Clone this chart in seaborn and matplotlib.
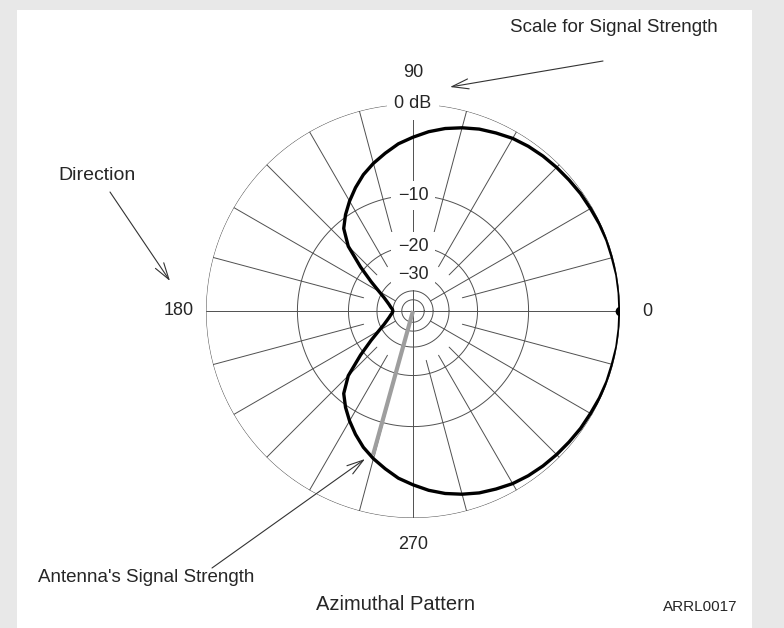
import numpy as np
import pandas as pd
import matplotlib
matplotlib.use("Agg")
import matplotlib.pyplot as plt
from matplotlib.patches import Rectangle
import seaborn as sns

# azimuth (deg) and relative gain (dB) for 0..180 deg;
# the pattern is mirror-symmetric about the 0-180 axis
half_angles = list(range(0, 181, 5))
half_gain_db = [0.0, 0.0, 0.0, -0.05, -0.05, -0.1, -0.17, -0.2, -0.27, -0.33,
                -0.4, -0.5, -0.65, -0.9, -1.15, -1.5, -1.9, -2.4, -3.0, -3.6,
                -4.4, -5.2, -6.1, -7.2, -8.4, -9.7, -11.2, -14.0, -19.0, -24.0,
                -28.5, -32.0, -34.5, -36.5, -38.0, -39.5, -40.0]

ring_levels_db = [0, -10, -20, -30, -40, -50]
ring_labels = {-10: "\u221210", -20: "\u221220", -30: "\u221230"}
direction_labels = {0: "0", 90: "90", 180: "180", 270: "270"}
spoke_angles = list(range(0, 360, 15))

strength_angle = 254.5
strength_db = -5.6

W, H = 784, 628


def arrl_r(db):
    # ARRL log-periodic scale: radius shrinks by 0.89 every 2 dB
    return 0.89 ** (-np.asarray(db, dtype=float) / 2)


def px(x, y):
    # pixel position (from top-left) -> figure fraction
    return (x / W, 1 - y / H)


angles = half_angles + [360 - a for a in half_angles[-2::-1]]
gain_db = half_gain_db + half_gain_db[-2::-1]
pattern = pd.DataFrame({"theta": np.deg2rad(angles), "r": arrl_r(gain_db)})

sns.set_theme(style="white")
plt.rcParams["font.family"] = ["Liberation Sans", "DejaVu Sans"]

fig = plt.figure(figsize=(W / 100, H / 100), dpi=100, facecolor="#e8e8e8")
fig.patches.append(Rectangle(px(17, 628), (752 - 17) / W, 1 - 10 / H,
                             transform=fig.transFigure, facecolor="white",
                             edgecolor="none", zorder=-5))

cx, cy, R = 413, 311, 207
ax = fig.add_axes([(cx - R) / W, (H - cy - R) / H, 2 * R / W, 2 * R / H],
                  projection="polar")
ax.set_facecolor("none")

grid_kw = dict(color="#505050", lw=0.7, zorder=1)

# rings
full = np.linspace(0, 2 * np.pi, 721)
for lvl in ring_levels_db:
    ax.plot(full, np.full_like(full, arrl_r(lvl)), **grid_kw)

# spokes, inner end depends on the angle
for a in spoke_angles:
    if a % 90 == 0:
        r_in = 0.0
    elif a % 30 == 0 and a % 60 != 0:
        r_in = arrl_r(-40)
    else:
        r_in = arrl_r(-24)
    th = np.deg2rad(a)
    ax.plot([th, th], [r_in, 1.0], **grid_kw)

# antenna pattern
sns.lineplot(data=pattern, x="theta", y="r", sort=False, estimator=None,
             color="black", lw=2.4, ax=ax, zorder=4)
ax.plot([0], [1.0], "o", color="black", ms=6, zorder=5)

# signal strength pointer
th_s = np.deg2rad(strength_angle)
ax.plot([th_s, th_s], [0, arrl_r(strength_db)], color="#9e9e9e", lw=3,
        solid_capstyle="butt", zorder=3)

ax.set_ylim(0, 1)
ax.set_theta_zero_location("E")
ax.grid(False)
ax.set_xticks([])
ax.set_yticks([])
ax.set_xlabel("")
ax.set_ylabel("")
ax.spines["polar"].set_visible(False)

box = dict(boxstyle="square,pad=0.35", facecolor="white", edgecolor="none")
for lvl, txt in ring_labels.items():
    ax.text(np.pi / 2, arrl_r(lvl), txt, ha="center", va="center",
            fontsize=13, bbox=box, zorder=6)
ax.text(np.pi / 2, 1.0, "0 dB", ha="center", va="center", fontsize=13,
        bbox=dict(boxstyle="square,pad=0.4", facecolor="white", edgecolor="none"),
        zorder=6)

for a, txt in direction_labels.items():
    rr = 1.15 if a == 90 else 1.13
    ax.text(np.deg2rad(a), rr, txt, ha="center", va="center", fontsize=13)

arrow_kw = dict(arrowstyle="->,head_length=1.0,head_width=0.3",
                color="#333333", lw=0.8, shrinkA=0, shrinkB=0)

fig.text(*px(614, 28), "Scale for Signal Strength", ha="center", va="center",
         fontsize=13.5)
ax.annotate("", xy=px(450, 87), xycoords="figure fraction",
            xytext=px(603, 61), textcoords="figure fraction",
            arrowprops=arrow_kw, annotation_clip=False)

fig.text(*px(97, 175), "Direction", ha="center", va="center", fontsize=14)
ax.annotate("", xy=px(170, 281), xycoords="figure fraction",
            xytext=px(110, 192), textcoords="figure fraction",
            arrowprops=arrow_kw, annotation_clip=False)

fig.text(*px(38, 578), "Antenna's Signal Strength", ha="left", va="center",
         fontsize=13.5)
ax.annotate("", xy=px(365, 459), xycoords="figure fraction",
            xytext=px(212, 568), textcoords="figure fraction",
            arrowprops=arrow_kw, annotation_clip=False)

fig.text(*px(396, 605), "Azimuthal Pattern", ha="center", va="center",
         fontsize=14.5)
fig.text(*px(700, 607), "ARRL0017", ha="center", va="center", fontsize=11)

fig.savefig("out.png", dpi=100, facecolor=fig.get_facecolor())
